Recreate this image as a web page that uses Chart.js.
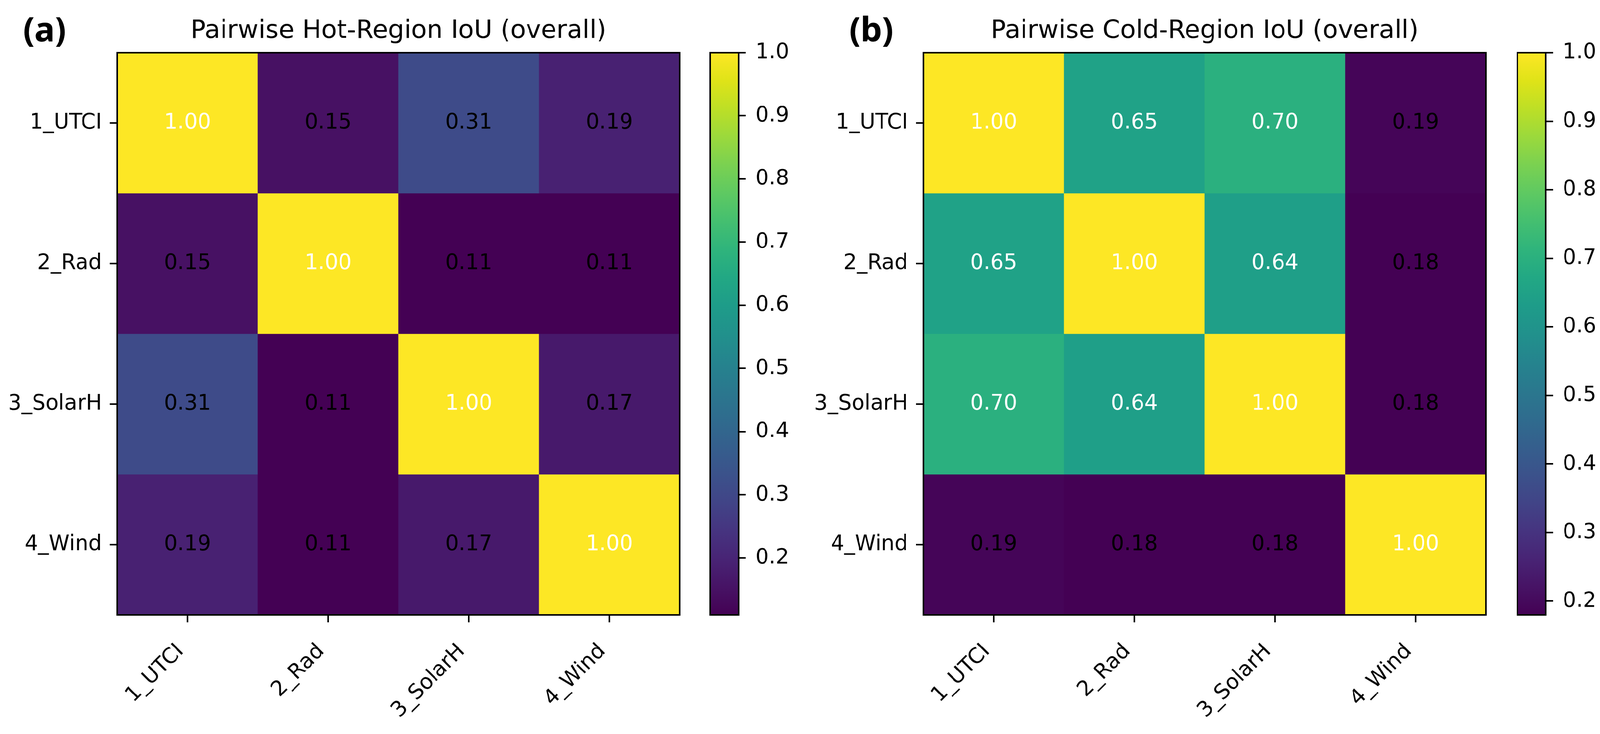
<!DOCTYPE html>
<html>
<head>
<meta charset="utf-8">
<script src="https://cdn.jsdelivr.net/npm/chart.js@4.4.1/dist/chart.umd.min.js"></script>
<style>
html, body { margin: 0; padding: 0; background: #fff; overflow: hidden; }
#page { position: absolute; left: 0; top: 0; width: 4164px; height: 1880px; transform-origin: 0 0; background: #fff; }
#page canvas { position: absolute; top: 0; }
</style>
</head>
<body>
<div id="page">
<canvas id="hotChart" width="1800" height="1880" style="left:0px"></canvas>
<canvas id="hotBar" width="300" height="1880" style="left:1800px"></canvas>
<canvas id="coldChart" width="1798" height="1880" style="left:2100px"></canvas>
<canvas id="coldBar" width="264" height="1880" style="left:3900px"></canvas>
</div>
<script>
var names = ['1_UTCI', '2_Rad', '3_SolarH', '4_Wind'];

// hot-region IoU, one row per variable
var hotUTCI   = [1.00, 0.15, 0.31, 0.19];
var hotRad    = [0.15, 1.00, 0.11, 0.11];
var hotSolarH = [0.31, 0.11, 1.00, 0.17];
var hotWind   = [0.19, 0.11, 0.17, 1.00];

// cold-region IoU
var coldUTCI   = [1.00, 0.65, 0.70, 0.19];
var coldRad    = [0.65, 1.00, 0.64, 0.18];
var coldSolarH = [0.70, 0.64, 1.00, 0.18];
var coldWind   = [0.19, 0.18, 0.18, 1.00];

var colorbarTicks = [0.2, 0.3, 0.4, 0.5, 0.6, 0.7, 0.8, 0.9, 1.0];

// fit the 4164x1880 layout to whatever the viewport is
var fit = Math.min(window.innerWidth / 4164, window.innerHeight / 1880);
document.getElementById('page').style.transform = 'scale(' + fit + ')';

// viridis, 21 stops
var viridisStops = ['#440154','#471365','#482475','#463480','#414487','#3b528b','#355f8d',
	'#2f6c8e','#2a788e','#25848e','#21918c','#1e9c89','#22a884','#2fb47c','#44bf70',
	'#5ec962','#7ad151','#9bd93c','#bddf26','#dfe318','#fde725'];

function hexToRgb(h) {
	return [parseInt(h.substr(1, 2), 16), parseInt(h.substr(3, 2), 16), parseInt(h.substr(5, 2), 16)];
}

function viridis(t) {
	t = Math.max(0, Math.min(1, t));
	var p = t * (viridisStops.length - 1);
	var i = Math.min(Math.floor(p), viridisStops.length - 2);
	var f = p - i;
	var a = hexToRgb(viridisStops[i]), b = hexToRgb(viridisStops[i + 1]);
	var c = [0, 1, 2].map(function(k){ return Math.round(a[k] + (b[k] - a[k]) * f); });
	return 'rgb(' + c.join(',') + ')';
}

Chart.defaults.font.family = "'DejaVu Sans'";
Chart.defaults.color = '#000';

var framePlugin = {
	id: 'frame',
	afterDraw: function(chart) {
		var ca = chart.chartArea, ctx = chart.ctx;
		ctx.save();
		ctx.strokeStyle = '#000';
		ctx.lineWidth = 4;
		ctx.strokeRect(ca.left, ca.top, ca.right - ca.left, ca.bottom - ca.top);
		ctx.restore();
	}
};

function makeHeatmap(canvasId, title, panel, panelX, yWidth, rows) {
	var all = [].concat.apply([], rows);
	var vmin = Math.min.apply(null, all), vmax = Math.max.apply(null, all);

	var datasets = rows.map(function(row, r){
		return {
			data: row.map(function(){ return [r, r + 1]; }),
			backgroundColor: row.map(function(v){ return viridis((v - vmin) / (vmax - vmin)); }),
			grouped: false,
			barPercentage: 1,
			categoryPercentage: 1,
			borderWidth: 0
		};
	});

	var annotate = {
		id: 'annotate',
		afterDatasetsDraw: function(chart) {
			var ctx = chart.ctx, xs = chart.scales.x, ys = chart.scales.y;
			ctx.save();
			ctx.font = "55px 'DejaVu Sans'";
			ctx.textAlign = 'center';
			ctx.textBaseline = 'middle';
			rows.forEach(function(row, r){
				row.forEach(function(v, c){
					ctx.fillStyle = v > 0.5 ? '#fff' : '#000';
					ctx.fillText(v.toFixed(2), xs.getPixelForValue(c), ys.getPixelForValue(r + 0.5));
				});
			});
			// panel letter
			ctx.fillStyle = '#000';
			ctx.textAlign = 'left';
			ctx.textBaseline = 'alphabetic';
			ctx.font = "bold 88px 'Noto Sans'";
			ctx.fillText(panel, panelX, 108);
			ctx.restore();
		}
	};

	new Chart(document.getElementById(canvasId), {
		type: 'bar',
		data: { labels: names, datasets: datasets },
		options: {
			responsive: false,
			animation: false,
			layout: { padding: { left: 0, right: 31, top: 0, bottom: 0 } },
			plugins: {
				legend: { display: false },
				tooltip: { enabled: false },
				title: {
					display: true,
					text: title,
					fullSize: false,
					color: '#000',
					font: { size: 66, weight: 'normal' },
					padding: { top: 42, bottom: 15.8 }
				}
			},
			scales: {
				x: {
					afterFit: function(s){ s.height = 279; },
					ticks: { autoSkip: false, maxRotation: 45, minRotation: 45, padding: 44, labelOffset: -18, font: { size: 55 } },
					grid: { offset: false, drawOnChartArea: false, tickLength: 19, color: '#000', lineWidth: 4 },
					border: { display: false }
				},
				y: {
					type: 'linear',
					reverse: true,
					min: 0,
					max: 4,
					afterFit: function(s){ s.width = yWidth; },
					afterBuildTicks: function(s){
						s.ticks = names.map(function(n, i){ return { value: i + 0.5 }; });
					},
					ticks: {
						padding: 21,
						font: { size: 55 },
						callback: function(v){ return names[Math.round(v - 0.5)]; }
					},
					grid: { drawOnChartArea: false, tickLength: 19, color: '#000', lineWidth: 4 },
					border: { display: false }
				}
			}
		},
		plugins: [annotate, framePlugin]
	});
	return [vmin, vmax];
}

function makeColorbar(canvasId, range, padLeft, axisWidth) {
	var vmin = range[0], vmax = range[1];
	new Chart(document.getElementById(canvasId), {
		type: 'bar',
		data: {
			labels: [''],
			datasets: [{
				data: [[vmin, vmax]],
				barPercentage: 1,
				categoryPercentage: 1,
				borderWidth: 0,
				backgroundColor: function(ctx) {
					var chart = ctx.chart;
					if (!chart.chartArea) return null;
					var ys = chart.scales.y;
					var g = chart.ctx.createLinearGradient(0, ys.getPixelForValue(vmin), 0, ys.getPixelForValue(vmax));
					viridisStops.forEach(function(c, i){ g.addColorStop(i / (viridisStops.length - 1), c); });
					return g;
				}
			}]
		},
		options: {
			responsive: false,
			animation: false,
			layout: { padding: { left: padLeft, right: 0, top: 137, bottom: 279 } },
			plugins: { legend: { display: false }, tooltip: { enabled: false } },
			scales: {
				x: { display: false },
				y: {
					position: 'right',
					min: vmin,
					max: vmax,
					afterFit: function(s){ s.width = axisWidth; },
					afterBuildTicks: function(s){
						s.ticks = colorbarTicks.filter(function(v){ return v >= vmin && v <= vmax + 1e-9; })
							.map(function(v){ return { value: v }; });
					},
					ticks: { padding: 25, font: { size: 55 }, callback: function(v){ return v.toFixed(1); } },
					grid: { drawOnChartArea: false, tickLength: 19, color: '#000', lineWidth: 4 },
					border: { display: false }
				}
			}
		},
		plugins: [framePlugin]
	});
}

var hotRange = makeHeatmap('hotChart', 'Pairwise Hot-Region IoU (overall)', '(a)', 60, 305,
	[hotUTCI, hotRad, hotSolarH, hotWind]);
makeColorbar('hotBar', hotRange, 48, 178);

var coldRange = makeHeatmap('coldChart', 'Pairwise Cold-Region IoU (overall)', '(b)', 110, 303,
	[coldUTCI, coldRad, coldSolarH, coldWind]);
makeColorbar('coldBar', coldRange, 49, 141);
</script>
</body>
</html>
